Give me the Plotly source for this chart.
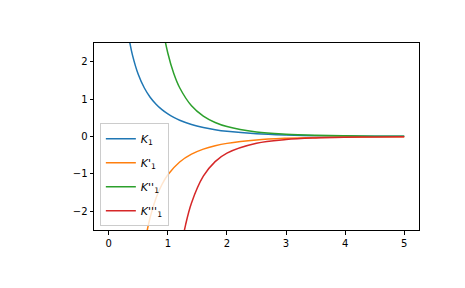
import plotly.graph_objects as go

# Values
x_k1 = [0.3, 0.35, 0.4, 0.5, 0.6, 0.7, 0.8, 0.9, 1.0, 1.1, 1.2, 1.4, 1.6, 1.8, 2.0, 2.5, 3.0, 3.5, 4.0, 4.5, 5.0]
y_k1 = [3.056, 2.56, 2.184, 1.656, 1.303, 1.050, 0.862, 0.717, 0.602, 0.510, 0.435, 0.321, 0.241, 0.183, 0.140,
        0.074, 0.040, 0.022, 0.0125, 0.0071, 0.0040]

x_d1 = [0.5, 0.6, 0.7, 0.8, 0.9, 1.0, 1.2, 1.4, 1.6, 1.8, 2.0, 2.5, 3.0, 3.5, 4.0, 4.5, 5.0]
y_d1 = [-4.237, -2.949, -2.161, -1.643, -1.283, -1.023, -0.681, -0.473, -0.338, -0.247, -0.184,
        -0.092, -0.048, -0.026, -0.0143, -0.0080, -0.0045]

x_d2 = [0.8, 0.9, 1.0, 1.1, 1.2, 1.4, 1.6, 1.8, 2.0, 2.5, 3.0, 3.5, 4.0, 4.5, 5.0]
y_d2 = [4.261, 3.026, 2.227, 1.685, 1.304, 0.822, 0.546, 0.376, 0.267, 0.1225, 0.0607, 0.0314,
        0.0168, 0.0092, 0.0051]

x_d3 = [1.1, 1.2, 1.3, 1.4, 1.6, 1.8, 2.0, 2.5, 3.0, 3.5, 4.0, 4.5, 5.0]
y_d3 = [-4.5, -3.215, -2.361, -1.776, -1.062, -0.672, -0.444, -0.180, -0.082, -0.040, -0.0207,
        -0.0110, -0.0060]

names = ["<i>K</i><sub>1</sub>",
         "<i>K</i>'<sub>1</sub>",
         "<i>K</i>''<sub>1</sub>",
         "<i>K</i>'''<sub>1</sub>"]
colors = ["#1f77b4", "#ff7f0e", "#2ca02c", "#d62728"]
x_ticks = [0, 1, 2, 3, 4, 5]
y_ticks = [-2, -1, 0, 1, 2]

fig = go.Figure()
for i, (xs, ys, n, c) in enumerate(zip([x_k1, x_d1, x_d2, x_d3], [y_k1, y_d1, y_d2, y_d3], names, colors)):
    fig.add_trace(go.Scatter(x=xs, y=ys, mode="lines", name=n, legendgroup=f"g{i}",
                             line=dict(color=c, width=1.5, shape="spline")))

axis_common = dict(showline=True, mirror=True, linecolor="black", linewidth=1,
                   ticks="outside", ticklen=3.5, tickwidth=0.8, tickcolor="black",
                   showgrid=False, zeroline=False,
                   tickfont=dict(family="DejaVu Sans", size=10, color="black"))

fig.update_layout(
    width=465, height=288,
    margin=dict(l=94, r=46, t=43, b=58),
    plot_bgcolor="white", paper_bgcolor="white",
    font=dict(family="DejaVu Sans", size=10, color="black"),
    xaxis=dict(range=[-0.25, 5.25], tickvals=x_ticks, **axis_common),
    yaxis=dict(range=[-2.5, 2.5], tickvals=y_ticks, **axis_common),
    showlegend=True,
    legend=dict(x=0.018, y=0.02, xanchor="left", yanchor="bottom",
                bgcolor="rgba(255,255,255,0.8)", bordercolor="#cccccc", borderwidth=1,
                font=dict(family="DejaVu Sans", size=11), itemwidth=30,
                tracegroupgap=5),
)

fig.write_html("out.html")
